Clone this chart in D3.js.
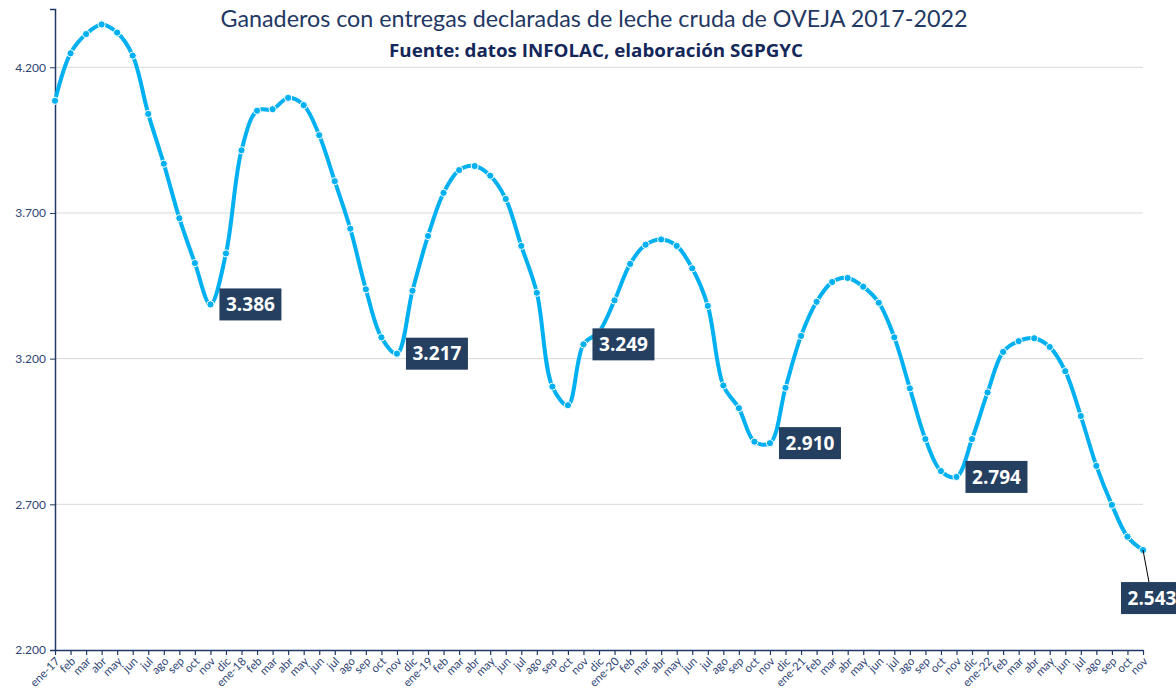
<!DOCTYPE html>
<html>
<head>
<meta charset="utf-8">
<script src="https://cdn.jsdelivr.net/npm/d3@7"></script>
<style>
  body { margin: 0; background: #fff; }
  svg { display: block; font-family: Lato, "Open Sans", sans-serif; }
</style>
</head>
<body>
<svg id="chart" width="1176" height="691"></svg>
<script>
// monthly categories ene-17 .. nov-22
var monthNames = ["ene","feb","mar","abr","may","jun","jul","ago","sep","oct","nov","dic"];
var years = ["17","18","19","20","21","22"];

// ganaderos con entregas (leche de oveja)
var ganaderos = [
  4085, 4248, 4314, 4347, 4319, 4240, 4040, 3869, 3682, 3528, 3386, 3561,
  3915, 4051, 4056, 4095, 4070, 3967, 3809, 3646, 3438, 3273, 3217, 3433,
  3621, 3769, 3847, 3861, 3828, 3748, 3587, 3426, 3104, 3040, 3249, 3292,
  3400, 3525, 3591, 3609, 3587, 3510, 3381, 3108, 3030, 2915, 2910, 3100,
  3278, 3395, 3463, 3477, 3447, 3392, 3273, 3098, 2924, 2814, 2794, 2924,
  3084, 3223, 3260, 3270, 3240, 3157, 3003, 2832, 2698, 2589, 2543
];

// indices of the labelled minima
var labelled = [10, 22, 34, 46, 58, 70];
var yTicks = [2200, 2700, 3200, 3700, 4200];

var categories = [];
years.forEach(function(y) {
  monthNames.forEach(function(m, i) {
    categories.push(i === 0 ? m + "-" + y : m);
  });
});
categories = categories.slice(0, ganaderos.length);

var data = ganaderos.map(function(v, i) {
  return { cat: categories[i], idx: i, value: v };
});

var esLocale = d3.formatLocale({ decimal: ",", thousands: ".", grouping: [3], currency: ["", "€"] });
var fmt = esLocale.format(",d");

var svg = d3.select("#chart");
var margin = { top: 9, right: 33, bottom: 41, left: 55 };
var width = 1176 - margin.left - margin.right;
var height = 691 - margin.top - margin.bottom;

var navy = "#1f3864";
var blue = "#00b0f0";

var x = d3.scalePoint()
  .domain(d3.range(ganaderos.length))
  .range([0, width]);

var y = d3.scaleLinear()
  .domain([2200, 4400])
  .range([height, 0]);

var g = svg.append("g")
  .attr("transform", "translate(" + margin.left + "," + margin.top + ")");

// gridlines
g.selectAll(".grid").data(yTicks.slice(1))
  .enter().append("line")
  .attr("class", "grid")
  .attr("x1", 0).attr("x2", width)
  .attr("y1", function(d) { return y(d); })
  .attr("y2", function(d) { return y(d); })
  .attr("stroke", "#d9d9d9")
  .attr("stroke-width", 1);

// y axis
var yAxis = d3.axisLeft(y).tickValues(yTicks).tickSize(5).tickFormat(fmt);
var yGroup = g.append("g").call(yAxis);
yGroup.select(".domain").attr("stroke", navy).attr("stroke-width", 1.5);
yGroup.selectAll(".tick line").attr("stroke", navy);
yGroup.selectAll(".tick text")
  .attr("fill", "#2f4575")
  .attr("x", -9)
  .style("font-size", "12px")
  .style("font-family", "Lato, sans-serif");

// x axis
var xAxis = d3.axisBottom(x).tickSize(5).tickSizeOuter(0)
  .tickFormat(function(i) { return categories[i]; });
var xGroup = g.append("g")
  .attr("transform", "translate(0," + height + ")")
  .call(xAxis);
xGroup.select(".domain").attr("stroke", navy).attr("stroke-width", 1.5);
xGroup.selectAll(".tick line").attr("stroke", navy).attr("stroke-width", 1.2);
xGroup.selectAll(".tick text")
  .attr("fill", "#2f4575")
  .attr("text-anchor", "end")
  .attr("dy", null)
  .attr("y", null)
  .attr("transform", "translate(5,12) rotate(-45)")
  .style("font-size", "11.5px")
  .style("font-family", "Lato, sans-serif");

// line
var line = d3.line()
  .curve(d3.curveCatmullRom.alpha(0.5))
  .x(function(d) { return x(d.idx); })
  .y(function(d) { return y(d.value); });

g.append("path")
  .datum(data)
  .attr("fill", "none")
  .attr("stroke", blue)
  .attr("stroke-width", 4)
  .attr("stroke-linejoin", "round")
  .attr("d", line);

g.selectAll(".dot").data(data)
  .enter().append("circle")
  .attr("class", "dot")
  .attr("cx", function(d) { return x(d.idx); })
  .attr("cy", function(d) { return y(d.value); })
  .attr("r", 3.6)
  .attr("fill", blue)
  .attr("stroke", "#fff")
  .attr("stroke-width", 1);

// data labels
var labelData = labelled.map(function(i) { return data[i]; });
var lastIdx = ganaderos.length - 1;

labelData.forEach(function(d) {
  var px = x(d.idx), py = y(d.value);
  var bx, by;
  if (d.idx === lastIdx) {
    bx = px - 22; by = py + 32;
    g.append("line")
      .attr("x1", px).attr("y1", py)
      .attr("x2", px + 6).attr("y2", by)
      .attr("stroke", "#000").attr("stroke-width", 1);
  } else {
    bx = px + 9; by = py - 16;
  }
  g.append("rect")
    .attr("x", bx).attr("y", by)
    .attr("width", 62).attr("height", 32)
    .attr("fill", "#243f60");
  g.append("text")
    .attr("x", bx + 31).attr("y", by + 16)
    .attr("dy", "0.35em")
    .attr("text-anchor", "middle")
    .attr("fill", "#fff")
    .style("font-family", "'Open Sans', sans-serif")
    .style("font-weight", "bold")
    .style("font-size", "19px")
    .text(fmt(d.value));
});

// titles
svg.append("text")
  .attr("x", 594).attr("y", 27)
  .attr("text-anchor", "middle")
  .attr("fill", navy)
  .attr("textLength", 747)
  .attr("lengthAdjust", "spacingAndGlyphs")
  .style("font-family", "Lato, sans-serif")
  .style("font-size", "23px")
  .text("Ganaderos con entregas declaradas de leche cruda de OVEJA 2017-2022");

svg.append("text")
  .attr("x", 596).attr("y", 57)
  .attr("text-anchor", "middle")
  .attr("fill", "#14275a")
  .attr("textLength", 414)
  .attr("lengthAdjust", "spacingAndGlyphs")
  .style("font-family", "'Open Sans', sans-serif")
  .style("font-weight", "bold")
  .style("font-size", "17px")
  .text("Fuente: datos INFOLAC, elaboración SGPGYC");
</script>
</body>
</html>
